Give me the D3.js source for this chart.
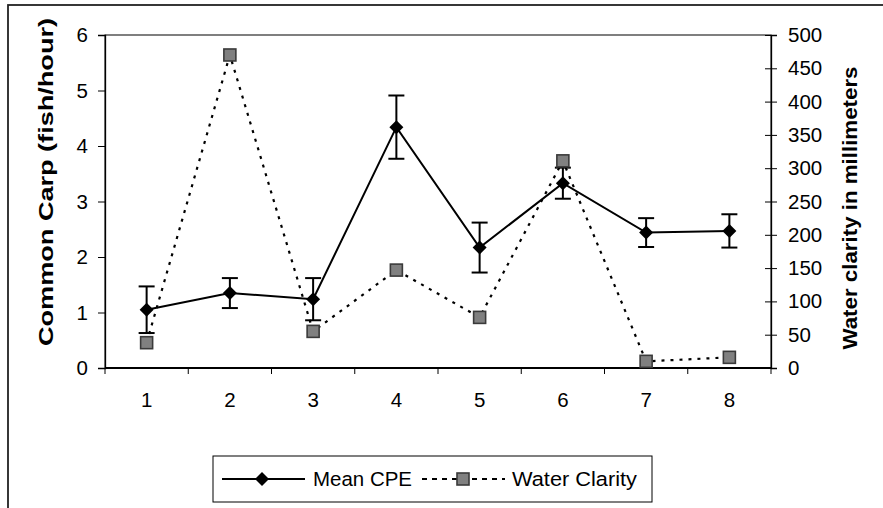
<!DOCTYPE html>
<html>
<head>
<meta charset="utf-8">
<script src="https://cdn.jsdelivr.net/npm/d3@7"></script>
<style>
body { margin: 0; background: #fff; }
text { font-family: "Liberation Sans", Arial, sans-serif; }
</style>
</head>
<body>
<div id="chart"></div>
<script>
var width = 883;
var height = 508;

// data
var sites = ["1", "2", "3", "4", "5", "6", "7", "8"];
var meanCPE = [1.05, 1.35, 1.24, 4.34, 2.17, 3.33, 2.44, 2.47];
var cpeErr = [0.42, 0.27, 0.38, 0.57, 0.45, 0.28, 0.26, 0.30];
var clarity = [38, 470, 55, 147, 76, 311, 10, 16];
var leftTicks = [0, 1, 2, 3, 4, 5, 6];
var rightTicks = [0, 50, 100, 150, 200, 250, 300, 350, 400, 450, 500];

var plot = {left: 105, right: 771, top: 35, bottom: 368};
var tickFont = "20.5px";

var svg = d3.select("#chart").append("svg")
    .attr("width", width)
    .attr("height", height);

// outer chart border (cropped at right and bottom)
svg.append("rect")
    .attr("x", 8).attr("y", 5)
    .attr("width", width + 20).attr("height", height + 20)
    .attr("fill", "none")
    .attr("stroke", "#222")
    .attr("stroke-width", 1.8);

var xScale = d3.scaleBand().domain(sites).range([plot.left, plot.right]);
var yLeft = d3.scaleLinear().domain([0, 6]).range([plot.bottom, plot.top]);
var yRight = d3.scaleLinear().domain([0, 500]).range([plot.bottom, plot.top]);

function cx(d, i) { return xScale(sites[i]) + xScale.bandwidth() / 2; }

// plot area frame
svg.append("rect")
    .attr("x", plot.left).attr("y", plot.top)
    .attr("width", plot.right - plot.left).attr("height", plot.bottom - plot.top)
    .attr("fill", "none").attr("stroke", "#000").attr("stroke-width", 1);

// left axis
var leftAxis = d3.axisLeft(yLeft).tickValues(leftTicks).tickFormat(d3.format("d"))
    .tickSize(7).tickPadding(10);
var gl = svg.append("g").attr("transform", "translate(" + plot.left + ",0)").call(leftAxis);
gl.select(".domain").attr("stroke", "#000").attr("stroke-width", 1.3);
gl.selectAll("text").style("font-size", tickFont).attr("fill", "#000");

// right axis, ticks cross the line
var rightAxis = d3.axisRight(yRight).tickValues(rightTicks).tickFormat(d3.format("d"))
    .tickSize(6).tickPadding(11);
var gr = svg.append("g").attr("transform", "translate(" + plot.right + ",0)").call(rightAxis);
gr.select(".domain").attr("stroke", "#000").attr("stroke-width", 1.3);
gr.selectAll(".tick line").attr("x1", -6);
gr.selectAll("text").style("font-size", tickFont).attr("fill", "#000");

// x axis with ticks at category boundaries
var gx = svg.append("g").attr("transform", "translate(0," + plot.bottom + ")");
gx.append("line")
    .attr("x1", plot.left).attr("x2", plot.right)
    .attr("stroke", "#000").attr("stroke-width", 2);
var bounds = sites.map(function(s) { return xScale(s); }).concat([plot.right]);
gx.selectAll(".xt").data(bounds).enter().append("line")
    .attr("x1", function(d) { return d; }).attr("x2", function(d) { return d; })
    .attr("y1", 0).attr("y2", 6)
    .attr("stroke", "#000");
gx.selectAll(".xl").data(sites).enter().append("text")
    .attr("x", function(d) { return xScale(d) + xScale.bandwidth() / 2; })
    .attr("y", 39)
    .attr("text-anchor", "middle")
    .style("font-size", tickFont)
    .text(function(d) { return d; });

// axis titles
svg.append("text")
    .attr("transform", "translate(53,182) rotate(-90)")
    .attr("text-anchor", "middle")
    .style("font-size", "21px").style("font-weight", "bold")
    .attr("textLength", 328).attr("lengthAdjust", "spacingAndGlyphs")
    .text("Common Carp (fish/hour)");
svg.append("text")
    .attr("transform", "translate(857,208) rotate(-90)")
    .attr("text-anchor", "middle")
    .style("font-size", "21px").style("font-weight", "bold")
    .attr("textLength", 283).attr("lengthAdjust", "spacingAndGlyphs")
    .text("Water clarity in millimeters");

// water clarity dashed line
var clarityLine = d3.line()
    .x(function(d, i) { return cx(d, i); })
    .y(function(d) { return yRight(d); });
svg.append("path")
    .datum(clarity)
    .attr("d", clarityLine)
    .attr("fill", "none")
    .attr("stroke", "#000")
    .attr("stroke-width", 2.2)
    .attr("stroke-dasharray", "3,6");

// mean CPE line
var cpeLine = d3.line()
    .x(function(d, i) { return cx(d, i); })
    .y(function(d) { return yLeft(d); });
svg.append("path")
    .datum(meanCPE)
    .attr("d", cpeLine)
    .attr("fill", "none")
    .attr("stroke", "#000")
    .attr("stroke-width", 2);

// error bars
var eb = svg.selectAll(".eb").data(meanCPE).enter().append("g");
eb.append("line")
    .attr("x1", cx).attr("x2", cx)
    .attr("y1", function(d, i) { return yLeft(d + cpeErr[i]); })
    .attr("y2", function(d, i) { return yLeft(d - cpeErr[i]); })
    .attr("stroke", "#000").attr("stroke-width", 2);
eb.append("line")
    .attr("x1", function(d, i) { return cx(d, i) - 8; })
    .attr("x2", function(d, i) { return cx(d, i) + 8; })
    .attr("y1", function(d, i) { return yLeft(d + cpeErr[i]); })
    .attr("y2", function(d, i) { return yLeft(d + cpeErr[i]); })
    .attr("stroke", "#000").attr("stroke-width", 2);
eb.append("line")
    .attr("x1", function(d, i) { return cx(d, i) - 8; })
    .attr("x2", function(d, i) { return cx(d, i) + 8; })
    .attr("y1", function(d, i) { return yLeft(d - cpeErr[i]); })
    .attr("y2", function(d, i) { return yLeft(d - cpeErr[i]); })
    .attr("stroke", "#000").attr("stroke-width", 2);

// square markers
svg.selectAll(".sq").data(clarity).enter().append("rect")
    .attr("x", function(d, i) { return cx(d, i) - 6; })
    .attr("y", function(d) { return yRight(d) - 6; })
    .attr("width", 12).attr("height", 12)
    .attr("fill", "#808080")
    .attr("stroke", "#3a3a3a")
    .attr("stroke-width", 1.6);

// diamond markers
var diamond = "M0,-7L7,0L0,7L-7,0Z";
svg.selectAll(".dm").data(meanCPE).enter().append("path")
    .attr("d", diamond)
    .attr("transform", function(d, i) { return "translate(" + cx(d, i) + "," + yLeft(d) + ")"; })
    .attr("fill", "#000");

// legend
var lg = svg.append("g");
lg.append("rect")
    .attr("x", 213).attr("y", 456)
    .attr("width", 439).attr("height", 46)
    .attr("fill", "#fff").attr("stroke", "#000").attr("stroke-width", 1);
lg.append("line")
    .attr("x1", 222).attr("x2", 305).attr("y1", 479).attr("y2", 479)
    .attr("stroke", "#000").attr("stroke-width", 2);
lg.append("path")
    .attr("d", diamond)
    .attr("transform", "translate(262,479)")
    .attr("fill", "#000");
lg.append("text")
    .attr("x", 313).attr("y", 486)
    .style("font-size", "20.5px")
    .attr("textLength", 99).attr("lengthAdjust", "spacingAndGlyphs")
    .text("Mean CPE");
lg.append("line")
    .attr("x1", 422).attr("x2", 505).attr("y1", 479).attr("y2", 479)
    .attr("stroke", "#000").attr("stroke-width", 2)
    .attr("stroke-dasharray", "5,5");
lg.append("rect")
    .attr("x", 457).attr("y", 473)
    .attr("width", 12).attr("height", 12)
    .attr("fill", "#808080").attr("stroke", "#3a3a3a").attr("stroke-width", 1.6);
lg.append("text")
    .attr("x", 512).attr("y", 486)
    .style("font-size", "20.5px")
    .attr("textLength", 125).attr("lengthAdjust", "spacingAndGlyphs")
    .text("Water Clarity");
</script>
</body>
</html>
